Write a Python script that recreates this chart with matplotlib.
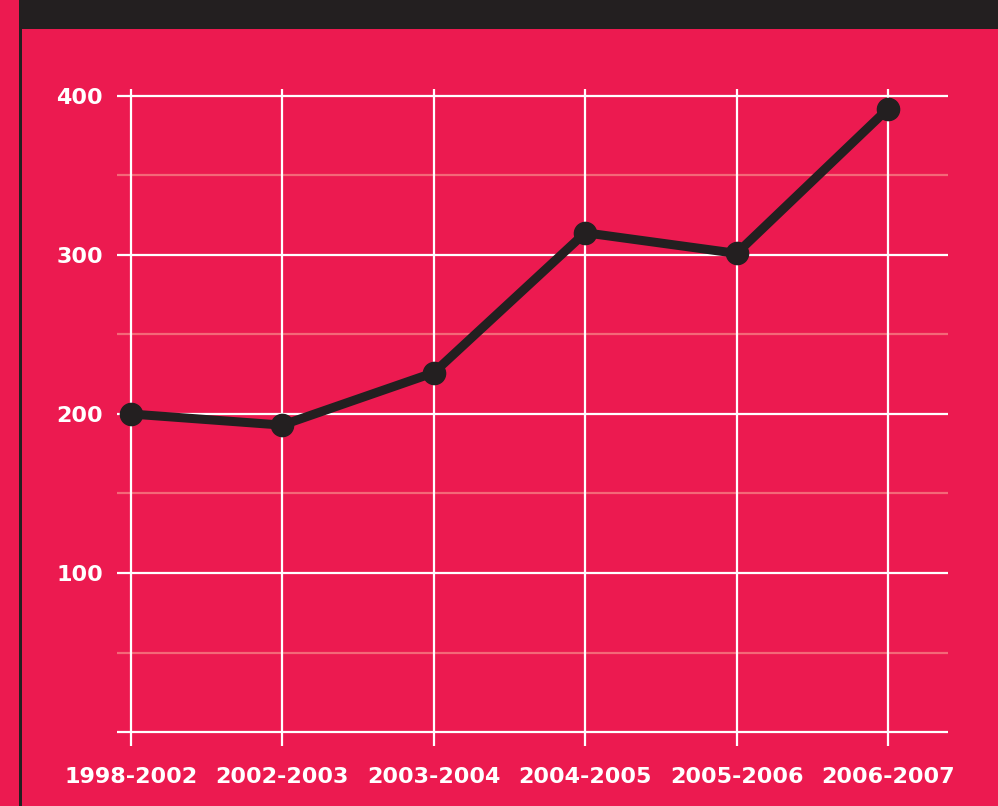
import matplotlib
matplotlib.use("Agg")
import matplotlib.pyplot as plt
from matplotlib.patches import Rectangle

categories = ["1998-2002", "2002-2003", "2003-2004", "2004-2005", "2005-2006", "2006-2007"]
values = [200, 193, 226, 314, 301, 392]
major_ticks = [0, 100, 200, 300, 400]
major_labels = ["", "100", "200", "300", "400"]
minor_ticks = [50, 150, 250, 350]

PINK = "#EC1A50"
DARK = "#231F20"
MINOR = "#F46878"

W, H = 998, 806
fig = plt.figure(figsize=(W / 100, H / 100), dpi=100)
fig.patch.set_facecolor(PINK)

# top banner and left rule
fig.add_artist(Rectangle((19 / W, 1 - 29 / H), 1 - 19 / W, 29 / H, transform=fig.transFigure,
                         facecolor=DARK, edgecolor="none", zorder=0))
fig.add_artist(Rectangle((19 / W, 0), 3 / W, 1 - 29 / H, transform=fig.transFigure,
                         facecolor=DARK, edgecolor="none", zorder=0))

ax = fig.add_axes([117 / W, (H - 746) / H, (948 - 117) / W, (746 - 89) / H])
ax.set_facecolor("none")
for s in ax.spines.values():
    s.set_visible(False)

x = list(range(len(categories)))
ax.set_xlim(-14 / 151.4, 5 + 60 / 151.4)
ax.set_ylim(-14 / 1.59, 400 + 7 / 1.59)

for m in minor_ticks:
    ax.axhline(m, color=MINOR, lw=1.6, zorder=1)
for t in major_ticks:
    ax.axhline(t, color="white", lw=1.6, zorder=2)
for xi in x:
    ax.axvline(xi, color="white", lw=1.6, zorder=2)

ax.plot(x, values, color=DARK, lw=6.5, marker="o", markersize=16, solid_capstyle="round",
        solid_joinstyle="round", zorder=5)

ax.set_xticks(x)
ax.set_xticklabels(categories)
ax.set_yticks(major_ticks)
ax.set_yticklabels(major_labels)
ax.tick_params(length=0, colors="white")
ax.tick_params(axis="x", pad=15)
ax.tick_params(axis="y", pad=10)
for lab in ax.get_xticklabels() + ax.get_yticklabels():
    lab.set_fontweight("bold")
    lab.set_fontsize(16)
    lab.set_color("white")
    lab.set_family("DejaVu Sans")

fig.savefig("out.png", dpi=100, facecolor=PINK)
